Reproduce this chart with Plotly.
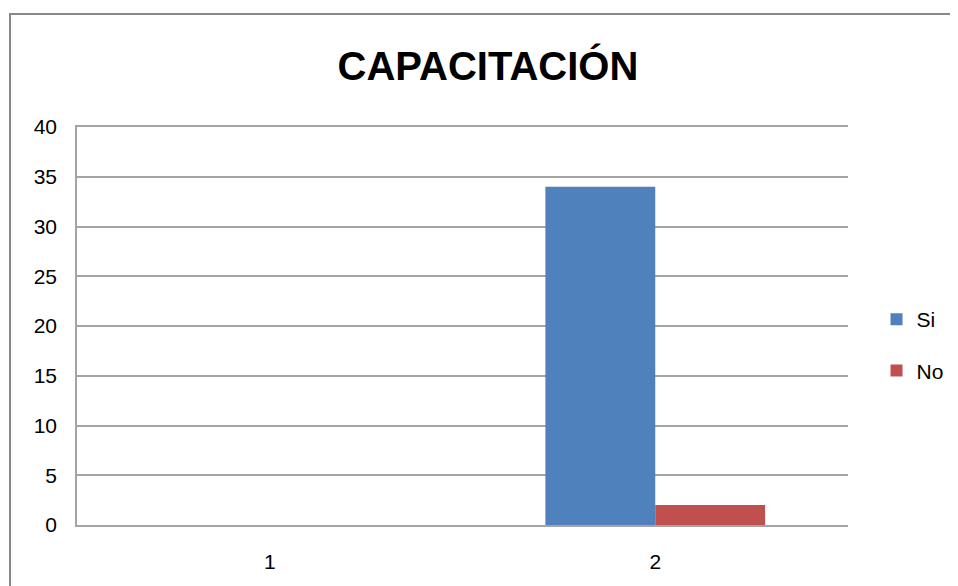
import plotly.graph_objects as go

categories = ["1", "2"]
si_values = [0, 34]
no_values = [0, 2]
series_names = ["Si", "No"]
title_text = "CAPACITACIÓN"

FONT = "Liberation Sans, Arial"
GRID = "#a4a4a4"

fig = go.Figure()
fig.add_trace(go.Bar(x=categories, y=si_values, name=series_names[0],
                     marker=dict(color="#4F81BD", line=dict(width=0)),
                     legendgroup="a"))
fig.add_trace(go.Bar(x=categories, y=no_values, name=series_names[1],
                     marker=dict(color="#C0504D", line=dict(width=0)),
                     legendgroup="b"))

W, H = 958, 586
fig.update_layout(
    width=W, height=H,
    margin=dict(l=69, r=W - 69 - 771, t=119, b=H - 119 - 398),
    paper_bgcolor="white", plot_bgcolor="white",
    barmode="group", bargap=0.43, bargroupgap=0,
    title=dict(text="<b>" + title_text + "</b>", x=0.533, xref="paper",
               xanchor="center",
               y=1 - 58 / H, yref="container", yanchor="middle",
               font=dict(family=FONT, size=40, color="black")),
    font=dict(family=FONT, size=21, color="black"),
    legend=dict(x=1.037, xanchor="left", y=0.452, yanchor="middle",
                tracegroupgap=21, font=dict(size=21),
                bgcolor="rgba(0,0,0,0)"),
    showlegend=True,
)
fig.update_xaxes(type="category", showgrid=False, showline=True, mirror=True,
                 linecolor=GRID, linewidth=1.5, ticks="",
                 tickfont=dict(size=21), ticklabelstandoff=17)
fig.update_yaxes(range=[0, 40], dtick=5, showgrid=True, gridcolor=GRID,
                 gridwidth=1.5, zeroline=False, showline=True,
                 linecolor=GRID, linewidth=1.5, ticks="",
                 tickfont=dict(size=21), ticklabelstandoff=14)

fig.add_shape(type="rect", xref="paper", yref="paper",
              x0=(2 - 69) / 771, x1=1.3, y0=-0.3, y1=(398 + 119 - 6) / 398,
              line=dict(color="#888888", width=2), fillcolor="rgba(0,0,0,0)",
              layer="below")

fig.write_html("out.html")
